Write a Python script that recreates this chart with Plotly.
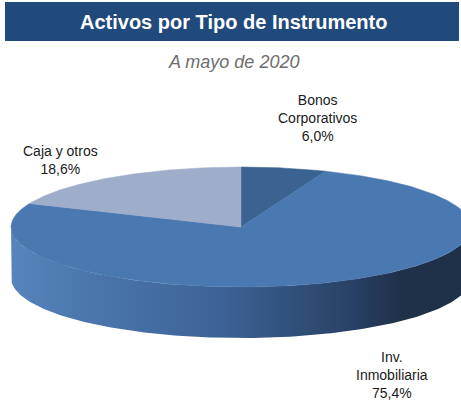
import numpy as np
import plotly.graph_objects as go

# ---- data ----
categories = ["Bonos<br>Corporativos", "Inv.<br>Inmobiliaria", "Caja y otros"]
values = [6.0, 75.4, 18.6]
value_labels = ["6,0%", "75,4%", "18,6%"]
top_colors = ["#3A6391", "#4A78B0", "#9EADCA"]
title_text = "Activos por Tipo de Instrumento"
subtitle_text = "A mayo de 2020"

# ---- geometry (pixel-like data space) ----
W, H = 461, 401
cx, cy, rx, ry, depth = 241, 227, 230, 60, 51
FONT = "Liberation Sans, Arial, sans-serif"

fracs = np.array(values) / np.sum(values)
ends = np.cumsum(fracs) * 360.0
starts = ends - fracs * 360.0


def ell(theta_deg, dy=0.0):
    t = np.radians(theta_deg)
    return cx + rx * np.sin(t), cy - ry * np.cos(t) + dy


fig = go.Figure()

# side walls (front half only, theta 90..270)
side_scale = [[0, "#5784BC"], [0.15, "#4B78AF"], [0.45, "#3D6396"],
              [0.72, "#2A4469"], [0.85, "#1F3049"], [1, "#1F3049"]]
for s, e in zip(starts, ends):
    a, b = max(s, 90.0), min(e, 270.0)
    if a >= b:
        continue
    th = np.linspace(a, b, 200)
    x1, y1 = ell(th)
    x2, y2 = ell(th[::-1], depth)
    fig.add_trace(go.Scatter(
        x=np.concatenate([x1, x2, x1[:1]]), y=np.concatenate([y1, y2, y1[:1]]),
        mode="lines", line=dict(width=0), fill="toself",
        fillgradient=dict(type="horizontal", colorscale=side_scale),
        hoverinfo="skip", showlegend=False))

# top face wedges
for s, e, c, name in zip(starts, ends, top_colors, categories):
    th = np.linspace(s, e, max(int((e - s) * 2), 10))
    x, y = ell(th)
    fig.add_trace(go.Scatter(
        x=np.concatenate([[cx], x, [cx]]), y=np.concatenate([[cy], y, [cy]]),
        mode="lines", line=dict(width=0.5, color=c), fill="toself", fillcolor=c,
        name=name.replace("<br>", " "), hoverinfo="name", showlegend=False))

# labels
label_pos = [(317, 118), (392, 375), (60, 160)]
for (lx, ly), cat, vl in zip(label_pos, categories, value_labels):
    fig.add_annotation(x=lx, y=ly, xref="x", yref="y", text=f"{cat}<br>{vl}",
                       showarrow=False, align="center",
                       font=dict(family=FONT, size=14, color="#1a1a1a"))

# title bar
fig.add_shape(type="rect", xref="x", yref="y", x0=5, x1=459, y0=2, y1=41,
              fillcolor="#214A7C", line=dict(width=0), layer="below")
fig.add_annotation(x=233, y=21.5, xref="x", yref="y", text=f"<b>{title_text}</b>",
                   showarrow=False, font=dict(family=FONT, size=20, color="white"))
fig.add_annotation(x=233, y=62, xref="x", yref="y", text=f"<i>{subtitle_text}</i>",
                   showarrow=False, font=dict(family=FONT, size=18, color="#6E6E6E"))

fig.update_layout(
    width=W, height=H, margin=dict(l=0, r=0, t=0, b=0),
    paper_bgcolor="white", plot_bgcolor="white",
    xaxis=dict(range=[0, W], visible=False, fixedrange=True),
    yaxis=dict(range=[H, 0], visible=False, fixedrange=True),
    showlegend=False,
)
fig.write_html("out.html")
